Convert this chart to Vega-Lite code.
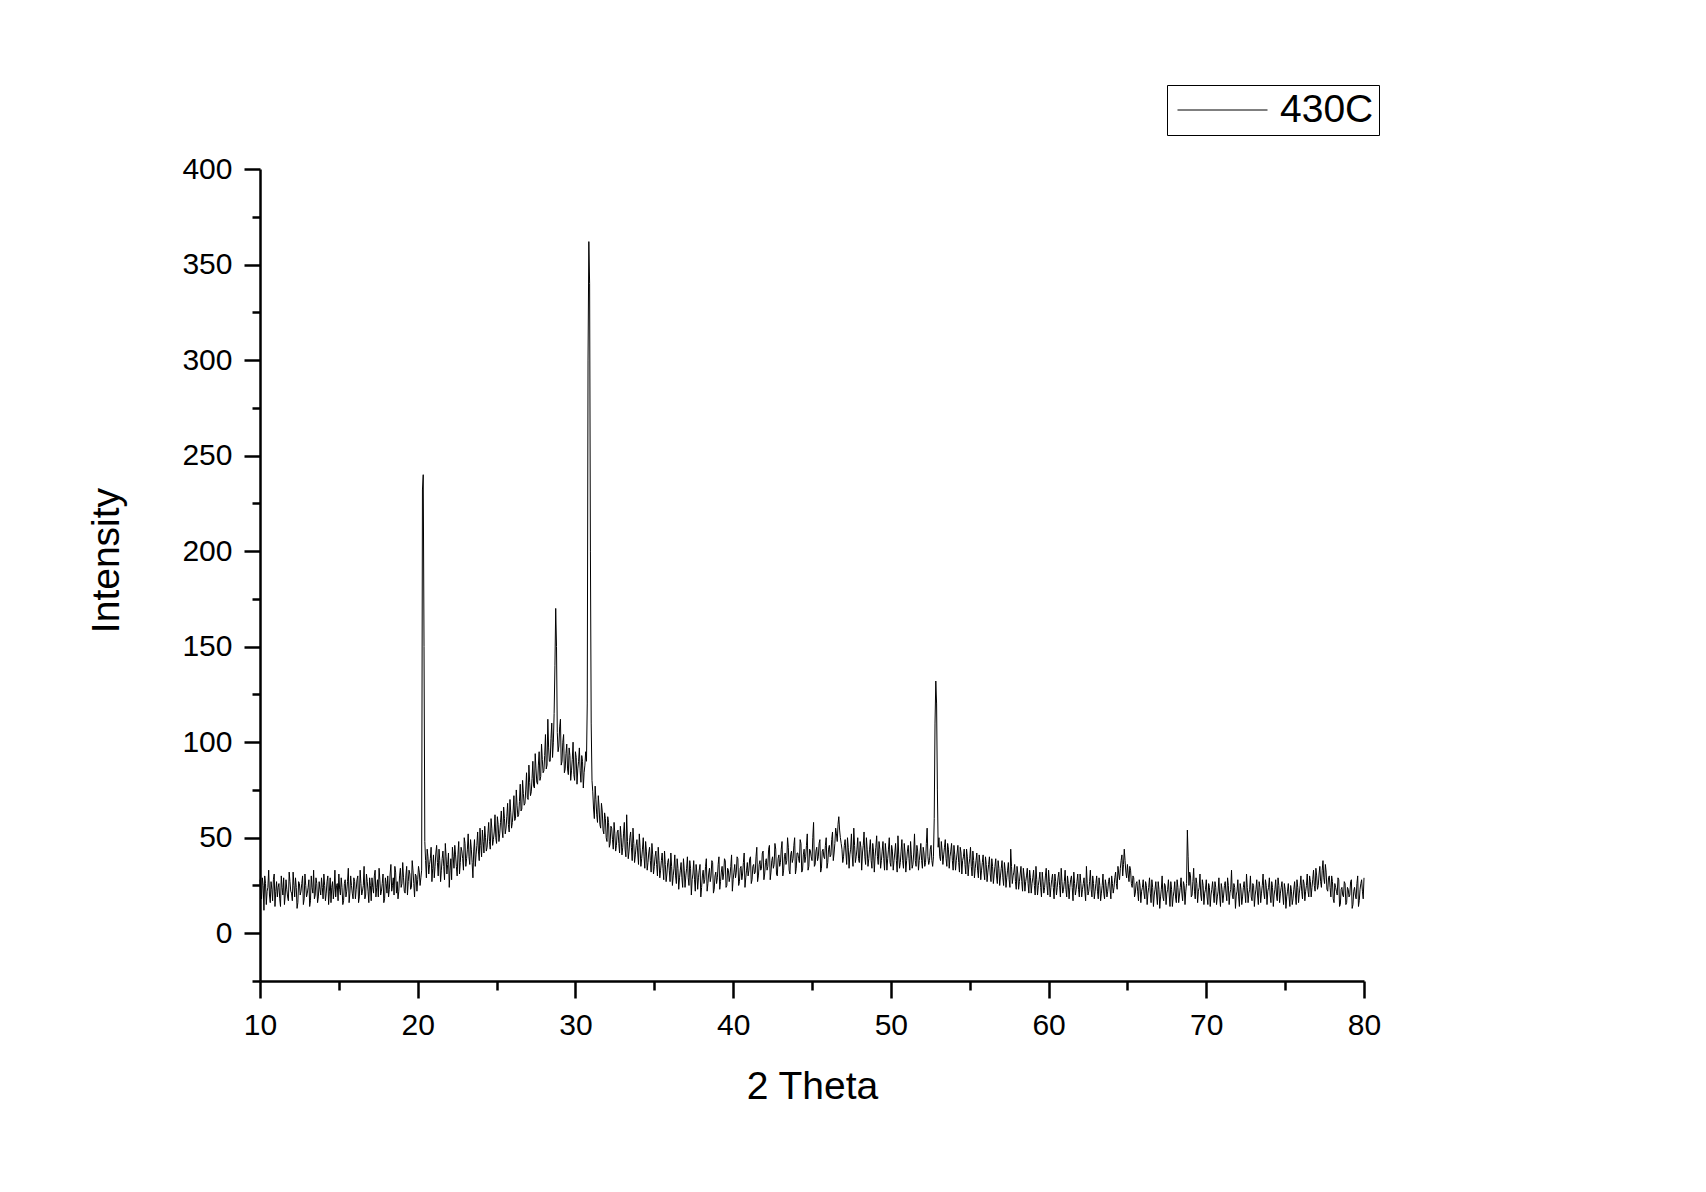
{
"$schema": "https://vega.github.io/schema/vega-lite/v6.json",
"width": 1104,
"height": 812,
"autosize": {"type": "none"},
"padding": {"left": 260, "top": 169, "right": 342, "bottom": 211},
"background": "white",
"config": {"view": {"stroke": null}, "font": "Liberation Sans"},
"data": {"values": [
{"x":10.0,"y":28},{"x":10.1,"y":18},{"x":10.2,"y":25},{"x":10.3,"y":30},{"x":10.4,"y":15},{"x":10.5,"y":24},{"x":10.6,"y":20},{"x":10.7,"y":27},{"x":10.8,"y":17},{"x":10.9,"y":31},
{"x":11.0,"y":22},{"x":11.1,"y":19},{"x":11.2,"y":26},{"x":11.3,"y":14},{"x":11.4,"y":24},{"x":11.5,"y":29},{"x":11.6,"y":20},{"x":11.7,"y":23},{"x":11.8,"y":17},{"x":11.9,"y":27},
{"x":12.0,"y":21},{"x":12.1,"y":32},{"x":12.2,"y":19},{"x":12.3,"y":24},{"x":12.4,"y":16},{"x":12.5,"y":26},{"x":12.6,"y":22},{"x":12.7,"y":30},{"x":12.8,"y":18},{"x":12.9,"y":25},
{"x":13.0,"y":21},{"x":13.1,"y":28},{"x":13.2,"y":17},{"x":13.3,"y":24},{"x":13.4,"y":33},{"x":13.5,"y":20},{"x":13.6,"y":26},{"x":13.7,"y":19},{"x":13.8,"y":23},{"x":13.9,"y":29},
{"x":14.0,"y":18},{"x":14.1,"y":25},{"x":14.2,"y":21},{"x":14.3,"y":30},{"x":14.4,"y":22},{"x":14.5,"y":16},{"x":14.6,"y":27},{"x":14.7,"y":23},{"x":14.8,"y":19},{"x":14.9,"y":26},
{"x":15.0,"y":31},{"x":15.1,"y":20},{"x":15.2,"y":24},{"x":15.3,"y":17},{"x":15.4,"y":28},{"x":15.5,"y":22},{"x":15.6,"y":34},{"x":15.7,"y":21},{"x":15.8,"y":25},{"x":15.9,"y":18},
{"x":16.0,"y":27},{"x":16.1,"y":23},{"x":16.2,"y":30},{"x":16.3,"y":19},{"x":16.4,"y":26},{"x":16.5,"y":22},{"x":16.6,"y":35},{"x":16.7,"y":20},{"x":16.8,"y":27},{"x":16.9,"y":16},
{"x":17.0,"y":25},{"x":17.1,"y":29},{"x":17.2,"y":21},{"x":17.3,"y":33},{"x":17.4,"y":24},{"x":17.5,"y":19},{"x":17.6,"y":28},{"x":17.7,"y":22},{"x":17.8,"y":31},{"x":17.9,"y":18},
{"x":18.0,"y":26},{"x":18.1,"y":30},{"x":18.2,"y":23},{"x":18.3,"y":36},{"x":18.4,"y":25},{"x":18.5,"y":20},{"x":18.6,"y":32},{"x":18.7,"y":27},{"x":18.8,"y":22},{"x":18.9,"y":34},
{"x":19.0,"y":26},{"x":19.1,"y":29},{"x":19.2,"y":21},{"x":19.3,"y":35},{"x":19.4,"y":27},{"x":19.5,"y":31},{"x":19.6,"y":24},{"x":19.7,"y":33},{"x":19.8,"y":19},{"x":19.9,"y":30},
{"x":20.0,"y":28},{"x":20.1,"y":32},{"x":20.2,"y":29},{"x":20.25,"y":33},{"x":20.3,"y":232},{"x":20.35,"y":240},{"x":20.4,"y":150},{"x":20.45,"y":48},{"x":20.5,"y":38},
{"x":20.6,"y":44},{"x":20.7,"y":31},{"x":20.8,"y":39},{"x":20.9,"y":27},{"x":21.0,"y":41},{"x":21.1,"y":35},{"x":21.2,"y":46},{"x":21.3,"y":30},{"x":21.4,"y":38},{"x":21.5,"y":33},
{"x":21.6,"y":43},{"x":21.7,"y":28},{"x":21.8,"y":40},{"x":21.9,"y":36},{"x":22.0,"y":24},{"x":22.1,"y":39},{"x":22.2,"y":45},{"x":22.3,"y":34},{"x":22.4,"y":41},{"x":22.5,"y":30},
{"x":22.6,"y":48},{"x":22.7,"y":37},{"x":22.8,"y":43},{"x":22.9,"y":33},{"x":23.0,"y":47},{"x":23.1,"y":39},{"x":23.2,"y":52},{"x":23.3,"y":36},{"x":23.4,"y":44},{"x":23.5,"y":29},
{"x":23.6,"y":49},{"x":23.7,"y":41},{"x":23.8,"y":53},{"x":23.9,"y":38},{"x":24.0,"y":46},{"x":24.1,"y":54},{"x":24.2,"y":42},{"x":24.3,"y":50},{"x":24.4,"y":45},{"x":24.5,"y":58},
{"x":24.6,"y":44},{"x":24.7,"y":55},{"x":24.8,"y":49},{"x":24.9,"y":62},{"x":25.0,"y":47},{"x":25.1,"y":57},{"x":25.2,"y":52},{"x":25.3,"y":64},{"x":25.4,"y":50},{"x":25.5,"y":60},
{"x":25.6,"y":55},{"x":25.7,"y":68},{"x":25.8,"y":53},{"x":25.9,"y":63},{"x":26.0,"y":58},{"x":26.1,"y":72},{"x":26.2,"y":60},{"x":26.3,"y":67},{"x":26.4,"y":62},{"x":26.5,"y":78},
{"x":26.6,"y":65},{"x":26.7,"y":73},{"x":26.8,"y":68},{"x":26.9,"y":84},{"x":27.0,"y":70},{"x":27.1,"y":79},{"x":27.2,"y":74},{"x":27.3,"y":90},{"x":27.4,"y":76},{"x":27.5,"y":86},
{"x":27.6,"y":78},{"x":27.7,"y":95},{"x":27.8,"y":82},{"x":27.9,"y":91},{"x":28.0,"y":85},{"x":28.1,"y":104},{"x":28.2,"y":88},{"x":28.3,"y":97},{"x":28.4,"y":90},{"x":28.5,"y":110},
{"x":28.6,"y":100},{"x":28.7,"y":140},{"x":28.75,"y":170},{"x":28.8,"y":150},{"x":28.85,"y":105},{"x":28.9,"y":95},
{"x":29.0,"y":108},{"x":29.1,"y":88},{"x":29.2,"y":100},{"x":29.3,"y":84},{"x":29.4,"y":94},{"x":29.5,"y":86},{"x":29.6,"y":97},{"x":29.7,"y":80},{"x":29.8,"y":91},{"x":29.9,"y":83},
{"x":30.0,"y":95},{"x":30.1,"y":78},{"x":30.2,"y":90},{"x":30.3,"y":85},{"x":30.4,"y":93},{"x":30.5,"y":76},{"x":30.6,"y":88},{"x":30.7,"y":90},{"x":30.75,"y":120},{"x":30.8,"y":300},
{"x":30.85,"y":362},{"x":30.9,"y":340},{"x":30.95,"y":200},{"x":31.0,"y":110},{"x":31.05,"y":80},
{"x":31.1,"y":74},{"x":31.2,"y":60},{"x":31.3,"y":70},{"x":31.4,"y":58},{"x":31.5,"y":66},{"x":31.6,"y":55},{"x":31.7,"y":64},{"x":31.8,"y":52},{"x":31.9,"y":60},
{"x":32.0,"y":48},{"x":32.1,"y":58},{"x":32.2,"y":47},{"x":32.3,"y":55},{"x":32.4,"y":44},{"x":32.5,"y":52},{"x":32.6,"y":46},{"x":32.7,"y":54},{"x":32.8,"y":42},{"x":32.9,"y":50},
{"x":33.0,"y":45},{"x":33.1,"y":58},{"x":33.2,"y":40},{"x":33.3,"y":48},{"x":33.4,"y":43},{"x":33.5,"y":53},{"x":33.6,"y":38},{"x":33.7,"y":47},{"x":33.8,"y":41},{"x":33.9,"y":49},
{"x":34.0,"y":36},{"x":34.1,"y":45},{"x":34.2,"y":39},{"x":34.3,"y":50},{"x":34.4,"y":34},{"x":34.5,"y":43},{"x":34.6,"y":37},{"x":34.7,"y":45},{"x":34.8,"y":32},{"x":34.9,"y":41},
{"x":35.0,"y":35},{"x":35.1,"y":43},{"x":35.2,"y":30},{"x":35.3,"y":38},{"x":35.4,"y":33},{"x":35.5,"y":42},{"x":35.6,"y":28},{"x":35.7,"y":36},{"x":35.8,"y":31},{"x":35.9,"y":39},
{"x":36.0,"y":27},{"x":36.1,"y":35},{"x":36.2,"y":30},{"x":36.3,"y":41},{"x":36.4,"y":26},{"x":36.5,"y":34},{"x":36.6,"y":29},{"x":36.7,"y":37},{"x":36.8,"y":24},{"x":36.9,"y":33},
{"x":37.0,"y":30},{"x":37.1,"y":40},{"x":37.2,"y":25},{"x":37.3,"y":34},{"x":37.4,"y":28},{"x":37.5,"y":38},{"x":37.6,"y":22},{"x":37.7,"y":32},{"x":37.8,"y":29},{"x":37.9,"y":36},
{"x":38.0,"y":24},{"x":38.1,"y":33},{"x":38.2,"y":28},{"x":38.3,"y":39},{"x":38.4,"y":26},{"x":38.5,"y":34},{"x":38.6,"y":30},{"x":38.7,"y":37},{"x":38.8,"y":23},{"x":38.9,"y":32},
{"x":39.0,"y":29},{"x":39.1,"y":40},{"x":39.2,"y":27},{"x":39.3,"y":35},{"x":39.4,"y":31},{"x":39.5,"y":38},{"x":39.6,"y":25},{"x":39.7,"y":33},{"x":39.8,"y":30},{"x":39.9,"y":41},
{"x":40.0,"y":28},{"x":40.1,"y":36},{"x":40.2,"y":32},{"x":40.3,"y":39},{"x":40.4,"y":27},{"x":40.5,"y":35},{"x":40.6,"y":31},{"x":40.7,"y":42},{"x":40.8,"y":29},{"x":40.9,"y":37},
{"x":41.0,"y":33},{"x":41.1,"y":40},{"x":41.2,"y":28},{"x":41.3,"y":36},{"x":41.4,"y":32},{"x":41.5,"y":45},{"x":41.6,"y":30},{"x":41.7,"y":38},{"x":41.8,"y":34},{"x":41.9,"y":43},
{"x":42.0,"y":31},{"x":42.1,"y":39},{"x":42.2,"y":35},{"x":42.3,"y":46},{"x":42.4,"y":32},{"x":42.5,"y":40},{"x":42.6,"y":36},{"x":42.7,"y":44},{"x":42.8,"y":30},{"x":42.9,"y":41},
{"x":43.0,"y":37},{"x":43.1,"y":48},{"x":43.2,"y":33},{"x":43.3,"y":42},{"x":43.4,"y":38},{"x":43.5,"y":45},{"x":43.6,"y":31},{"x":43.7,"y":43},{"x":43.8,"y":39},{"x":43.9,"y":50},
{"x":44.0,"y":34},{"x":44.1,"y":42},{"x":44.2,"y":37},{"x":44.3,"y":47},{"x":44.4,"y":33},{"x":44.5,"y":44},{"x":44.6,"y":40},{"x":44.7,"y":52},{"x":44.8,"y":35},{"x":44.9,"y":43},
{"x":45.0,"y":38},{"x":45.1,"y":58},{"x":45.2,"y":36},{"x":45.3,"y":45},{"x":45.4,"y":40},{"x":45.5,"y":49},{"x":45.6,"y":34},{"x":45.7,"y":44},{"x":45.8,"y":39},{"x":45.9,"y":50},
{"x":46.0,"y":37},{"x":46.1,"y":46},{"x":46.2,"y":41},{"x":46.3,"y":53},{"x":46.4,"y":42},{"x":46.5,"y":55},{"x":46.6,"y":48},{"x":46.7,"y":61},{"x":46.8,"y":50},{"x":46.9,"y":44},
{"x":47.0,"y":40},{"x":47.1,"y":49},{"x":47.2,"y":36},{"x":47.3,"y":45},{"x":47.4,"y":41},{"x":47.5,"y":52},{"x":47.6,"y":35},{"x":47.7,"y":46},{"x":47.8,"y":40},{"x":47.9,"y":50},
{"x":48.0,"y":37},{"x":48.1,"y":45},{"x":48.2,"y":42},{"x":48.3,"y":53},{"x":48.4,"y":36},{"x":48.5,"y":44},{"x":48.6,"y":39},{"x":48.7,"y":49},{"x":48.8,"y":34},{"x":48.9,"y":43},
{"x":49.0,"y":40},{"x":49.1,"y":51},{"x":49.2,"y":36},{"x":49.3,"y":44},{"x":49.4,"y":38},{"x":49.5,"y":48},{"x":49.6,"y":33},{"x":49.7,"y":42},{"x":49.8,"y":39},{"x":49.9,"y":50},
{"x":50.0,"y":35},{"x":50.1,"y":43},{"x":50.2,"y":38},{"x":50.3,"y":47},{"x":50.4,"y":32},{"x":50.5,"y":41},{"x":50.6,"y":37},{"x":50.7,"y":49},{"x":50.8,"y":34},{"x":50.9,"y":42},
{"x":51.0,"y":38},{"x":51.1,"y":46},{"x":51.2,"y":33},{"x":51.3,"y":41},{"x":51.4,"y":36},{"x":51.5,"y":52},{"x":51.6,"y":35},{"x":51.7,"y":43},{"x":51.8,"y":38},{"x":51.9,"y":47},
{"x":52.0,"y":34},{"x":52.1,"y":42},{"x":52.2,"y":37},{"x":52.3,"y":55},{"x":52.4,"y":36},{"x":52.5,"y":44},{"x":52.6,"y":38},{"x":52.7,"y":40},{"x":52.75,"y":60},{"x":52.8,"y":110},
{"x":52.85,"y":132},{"x":52.9,"y":120},{"x":52.95,"y":75},{"x":53.0,"y":45},
{"x":53.1,"y":40},{"x":53.2,"y":48},{"x":53.3,"y":36},{"x":53.4,"y":45},{"x":53.5,"y":39},{"x":53.6,"y":47},{"x":53.7,"y":34},{"x":53.8,"y":43},{"x":53.9,"y":38},
{"x":54.0,"y":46},{"x":54.1,"y":33},{"x":54.2,"y":42},{"x":54.3,"y":37},{"x":54.4,"y":45},{"x":54.5,"y":31},{"x":54.6,"y":40},{"x":54.7,"y":36},{"x":54.8,"y":44},{"x":54.9,"y":30},
{"x":55.0,"y":39},{"x":55.1,"y":35},{"x":55.2,"y":43},{"x":55.3,"y":29},{"x":55.4,"y":38},{"x":55.5,"y":33},{"x":55.6,"y":41},{"x":55.7,"y":28},{"x":55.8,"y":37},{"x":55.9,"y":32},
{"x":56.0,"y":40},{"x":56.1,"y":27},{"x":56.2,"y":36},{"x":56.3,"y":31},{"x":56.4,"y":39},{"x":56.5,"y":26},{"x":56.6,"y":35},{"x":56.7,"y":30},{"x":56.8,"y":38},{"x":56.9,"y":25},
{"x":57.0,"y":34},{"x":57.1,"y":29},{"x":57.2,"y":37},{"x":57.3,"y":24},{"x":57.4,"y":33},{"x":57.5,"y":28},{"x":57.6,"y":44},{"x":57.7,"y":26},{"x":57.8,"y":32},{"x":57.9,"y":27},
{"x":58.0,"y":35},{"x":58.1,"y":23},{"x":58.2,"y":31},{"x":58.3,"y":27},{"x":58.4,"y":34},{"x":58.5,"y":22},{"x":58.6,"y":30},{"x":58.7,"y":26},{"x":58.8,"y":33},{"x":58.9,"y":21},
{"x":59.0,"y":29},{"x":59.1,"y":25},{"x":59.2,"y":35},{"x":59.3,"y":20},{"x":59.4,"y":28},{"x":59.5,"y":24},{"x":59.6,"y":32},{"x":59.7,"y":21},{"x":59.8,"y":30},{"x":59.9,"y":25},
{"x":60.0,"y":33},{"x":60.1,"y":19},{"x":60.2,"y":28},{"x":60.3,"y":24},{"x":60.4,"y":31},{"x":60.5,"y":20},{"x":60.6,"y":29},{"x":60.7,"y":25},{"x":60.8,"y":34},{"x":60.9,"y":21},
{"x":61.0,"y":27},{"x":61.1,"y":23},{"x":61.2,"y":30},{"x":61.3,"y":18},{"x":61.4,"y":28},{"x":61.5,"y":24},{"x":61.6,"y":32},{"x":61.7,"y":20},{"x":61.8,"y":27},{"x":61.9,"y":23},
{"x":62.0,"y":31},{"x":62.1,"y":19},{"x":62.2,"y":26},{"x":62.3,"y":22},{"x":62.4,"y":35},{"x":62.5,"y":20},{"x":62.6,"y":27},{"x":62.7,"y":23},{"x":62.8,"y":30},{"x":62.9,"y":18},
{"x":63.0,"y":26},{"x":63.1,"y":22},{"x":63.2,"y":29},{"x":63.3,"y":17},{"x":63.4,"y":25},{"x":63.5,"y":21},{"x":63.6,"y":28},{"x":63.7,"y":19},{"x":63.8,"y":27},{"x":63.9,"y":23},
{"x":64.0,"y":30},{"x":64.1,"y":21},{"x":64.2,"y":29},{"x":64.3,"y":26},{"x":64.4,"y":35},{"x":64.5,"y":28},{"x":64.6,"y":38},{"x":64.7,"y":30},{"x":64.8,"y":44},{"x":64.9,"y":32},
{"x":65.0,"y":36},{"x":65.1,"y":27},{"x":65.2,"y":33},{"x":65.3,"y":24},{"x":65.4,"y":29},{"x":65.5,"y":21},{"x":65.6,"y":27},{"x":65.7,"y":17},{"x":65.8,"y":25},{"x":65.9,"y":22},
{"x":66.0,"y":28},{"x":66.1,"y":18},{"x":66.2,"y":25},{"x":66.3,"y":21},{"x":66.4,"y":29},{"x":66.5,"y":16},{"x":66.6,"y":24},{"x":66.7,"y":20},{"x":66.8,"y":27},{"x":66.9,"y":15},
{"x":67.0,"y":23},{"x":67.1,"y":19},{"x":67.2,"y":30},{"x":67.3,"y":17},{"x":67.4,"y":25},{"x":67.5,"y":21},{"x":67.6,"y":28},{"x":67.7,"y":14},{"x":67.8,"y":23},{"x":67.9,"y":19},
{"x":68.0,"y":27},{"x":68.1,"y":16},{"x":68.2,"y":24},{"x":68.3,"y":20},{"x":68.4,"y":29},{"x":68.5,"y":17},{"x":68.6,"y":25},{"x":68.7,"y":22},{"x":68.75,"y":26},{"x":68.8,"y":54},
{"x":68.85,"y":40},{"x":68.9,"y":25},
{"x":69.0,"y":30},{"x":69.1,"y":20},{"x":69.2,"y":34},{"x":69.3,"y":18},{"x":69.4,"y":26},{"x":69.5,"y":22},{"x":69.6,"y":31},{"x":69.7,"y":17},{"x":69.8,"y":25},{"x":69.9,"y":21},
{"x":70.0,"y":28},{"x":70.1,"y":15},{"x":70.2,"y":24},{"x":70.3,"y":20},{"x":70.4,"y":27},{"x":70.5,"y":16},{"x":70.6,"y":24},{"x":70.7,"y":19},{"x":70.8,"y":29},{"x":70.9,"y":14},
{"x":71.0,"y":23},{"x":71.1,"y":20},{"x":71.2,"y":27},{"x":71.3,"y":17},{"x":71.4,"y":25},{"x":71.5,"y":21},{"x":71.6,"y":33},{"x":71.7,"y":18},{"x":71.8,"y":24},{"x":71.9,"y":20},
{"x":72.0,"y":28},{"x":72.1,"y":14},{"x":72.2,"y":23},{"x":72.3,"y":19},{"x":72.4,"y":27},{"x":72.5,"y":16},{"x":72.6,"y":24},{"x":72.7,"y":21},{"x":72.8,"y":30},{"x":72.9,"y":17},
{"x":73.0,"y":25},{"x":73.1,"y":20},{"x":73.2,"y":28},{"x":73.3,"y":15},{"x":73.4,"y":24},{"x":73.5,"y":21},{"x":73.6,"y":31},{"x":73.7,"y":18},{"x":73.8,"y":25},{"x":73.9,"y":22},
{"x":74.0,"y":29},{"x":74.1,"y":16},{"x":74.2,"y":24},{"x":74.3,"y":20},{"x":74.4,"y":28},{"x":74.5,"y":17},{"x":74.6,"y":25},{"x":74.7,"y":21},{"x":74.8,"y":27},{"x":74.9,"y":15},
{"x":75.0,"y":23},{"x":75.1,"y":19},{"x":75.2,"y":26},{"x":75.3,"y":14},{"x":75.4,"y":22},{"x":75.5,"y":18},{"x":75.6,"y":27},{"x":75.7,"y":15},{"x":75.8,"y":24},{"x":75.9,"y":21},
{"x":76.0,"y":30},{"x":76.1,"y":18},{"x":76.2,"y":26},{"x":76.3,"y":22},{"x":76.4,"y":31},{"x":76.5,"y":19},{"x":76.6,"y":27},{"x":76.7,"y":24},{"x":76.8,"y":33},{"x":76.9,"y":22},
{"x":77.0,"y":30},{"x":77.1,"y":25},{"x":77.2,"y":35},{"x":77.3,"y":24},{"x":77.4,"y":38},{"x":77.5,"y":26},{"x":77.6,"y":32},{"x":77.7,"y":22},{"x":77.8,"y":30},{"x":77.9,"y":19},
{"x":78.0,"y":27},{"x":78.1,"y":16},{"x":78.2,"y":24},{"x":78.3,"y":20},{"x":78.4,"y":28},{"x":78.5,"y":15},{"x":78.6,"y":24},{"x":78.7,"y":19},{"x":78.8,"y":26},{"x":78.9,"y":16},
{"x":79.0,"y":23},{"x":79.1,"y":20},{"x":79.2,"y":28},{"x":79.3,"y":15},{"x":79.4,"y":24},{"x":79.5,"y":18},{"x":79.6,"y":30},{"x":79.7,"y":17},{"x":79.8,"y":26},{"x":79.9,"y":22},
{"x":80.0,"y":29},
{"x":10.05,"y":21},{"x":10.15,"y":29},{"x":10.25,"y":12},{"x":10.35,"y":26},{"x":10.45,"y":22},{"x":10.55,"y":33},{"x":10.65,"y":16},{"x":10.75,"y":23},{"x":10.85,"y":28},{"x":10.95,"y":14},
{"x":11.05,"y":27},{"x":11.15,"y":24},{"x":11.25,"y":18},{"x":11.35,"y":30},{"x":11.45,"y":20},{"x":11.55,"y":15},{"x":11.65,"y":28},{"x":11.75,"y":19},{"x":11.85,"y":32},{"x":11.95,"y":22},
{"x":12.05,"y":17},{"x":12.15,"y":25},{"x":12.25,"y":29},{"x":12.35,"y":13},{"x":12.45,"y":27},{"x":12.55,"y":20},{"x":12.65,"y":26},{"x":12.75,"y":15},{"x":12.85,"y":31},{"x":12.95,"y":19},
{"x":13.05,"y":24},{"x":13.15,"y":14},{"x":13.25,"y":30},{"x":13.35,"y":21},{"x":13.45,"y":18},{"x":13.55,"y":29},{"x":13.65,"y":16},{"x":13.75,"y":27},{"x":13.85,"y":20},{"x":13.95,"y":24},
{"x":14.05,"y":31},{"x":14.15,"y":17},{"x":14.25,"y":27},{"x":14.35,"y":15},{"x":14.45,"y":29},{"x":14.55,"y":24},{"x":14.65,"y":18},{"x":14.75,"y":33},{"x":14.85,"y":25},{"x":14.95,"y":17},
{"x":15.05,"y":23},{"x":15.15,"y":29},{"x":15.25,"y":15},{"x":15.35,"y":26},{"x":15.45,"y":19},{"x":15.55,"y":27},{"x":15.65,"y":16},{"x":15.75,"y":30},{"x":15.85,"y":21},{"x":15.95,"y":29},
{"x":16.05,"y":18},{"x":16.15,"y":28},{"x":16.25,"y":16},{"x":16.35,"y":33},{"x":16.45,"y":20},{"x":16.55,"y":25},{"x":16.65,"y":18},{"x":16.75,"y":31},{"x":16.85,"y":22},{"x":16.95,"y":29},
{"x":17.05,"y":17},{"x":17.15,"y":24},{"x":17.25,"y":30},{"x":17.35,"y":19},{"x":17.45,"y":28},{"x":17.55,"y":34},{"x":17.65,"y":20},{"x":17.75,"y":26},{"x":17.85,"y":16},{"x":17.95,"y":29},
{"x":18.05,"y":21},{"x":18.15,"y":19},{"x":18.25,"y":31},{"x":18.35,"y":22},{"x":18.45,"y":29},{"x":18.55,"y":35},{"x":18.65,"y":21},{"x":18.75,"y":18},{"x":18.85,"y":30},{"x":18.95,"y":24},
{"x":19.05,"y":37},{"x":19.15,"y":22},{"x":19.25,"y":30},{"x":19.35,"y":20},{"x":19.45,"y":33},{"x":19.55,"y":23},{"x":19.65,"y":38},{"x":19.75,"y":26},{"x":19.85,"y":31},{"x":19.95,"y":22},
{"x":20.05,"y":35},{"x":20.15,"y":25},
{"x":20.55,"y":29},{"x":20.65,"y":40},{"x":20.75,"y":36},{"x":20.85,"y":45},{"x":20.95,"y":34},{"x":21.05,"y":29},{"x":21.15,"y":42},{"x":21.25,"y":37},{"x":21.35,"y":44},{"x":21.45,"y":27},
{"x":21.55,"y":39},{"x":21.65,"y":35},{"x":21.75,"y":47},{"x":21.85,"y":31},{"x":21.95,"y":42},{"x":22.05,"y":33},{"x":22.15,"y":28},{"x":22.25,"y":40},{"x":22.35,"y":46},{"x":22.45,"y":35},
{"x":22.55,"y":41},{"x":22.65,"y":31},{"x":22.75,"y":45},{"x":22.85,"y":39},{"x":22.95,"y":50},{"x":23.05,"y":35},{"x":23.15,"y":44},{"x":23.25,"y":40},{"x":23.35,"y":49},{"x":23.45,"y":37},
{"x":23.55,"y":43},{"x":23.65,"y":35},{"x":23.75,"y":46},{"x":23.85,"y":43},{"x":23.95,"y":55},
{"x":24.05,"y":40},{"x":24.15,"y":48},{"x":24.25,"y":56},{"x":24.35,"y":43},{"x":24.45,"y":52},{"x":24.55,"y":48},{"x":24.65,"y":60},{"x":24.75,"y":46},{"x":24.85,"y":53},{"x":24.95,"y":50},
{"x":25.05,"y":61},{"x":25.15,"y":48},{"x":25.25,"y":58},{"x":25.35,"y":54},{"x":25.45,"y":66},{"x":25.55,"y":52},{"x":25.65,"y":61},{"x":25.75,"y":57},{"x":25.85,"y":70},{"x":25.95,"y":55},
{"x":26.05,"y":64},{"x":26.15,"y":59},{"x":26.25,"y":75},{"x":26.35,"y":61},{"x":26.45,"y":69},{"x":26.55,"y":64},{"x":26.65,"y":80},{"x":26.75,"y":67},{"x":26.85,"y":75},{"x":26.95,"y":71},
{"x":27.05,"y":88},{"x":27.15,"y":72},{"x":27.25,"y":81},{"x":27.35,"y":77},{"x":27.45,"y":94},{"x":27.55,"y":79},{"x":27.65,"y":88},{"x":27.75,"y":80},{"x":27.85,"y":99},{"x":27.95,"y":84},
{"x":28.05,"y":93},{"x":28.15,"y":86},{"x":28.25,"y":112},{"x":28.35,"y":90},{"x":28.45,"y":102},{"x":28.55,"y":92},{"x":28.65,"y":115},
{"x":28.95,"y":98},{"x":29.05,"y":112},{"x":29.15,"y":90},{"x":29.25,"y":104},{"x":29.35,"y":86},{"x":29.45,"y":99},{"x":29.55,"y":83},{"x":29.65,"y":93},{"x":29.75,"y":85},{"x":29.85,"y":100},
{"x":29.95,"y":80},{"x":30.05,"y":92},{"x":30.15,"y":86},{"x":30.25,"y":97},{"x":30.35,"y":79},{"x":30.45,"y":90},{"x":30.55,"y":84},{"x":30.65,"y":95},
{"x":31.15,"y":65},{"x":31.25,"y":77},{"x":31.35,"y":62},{"x":31.45,"y":72},{"x":31.55,"y":57},{"x":31.65,"y":68},{"x":31.75,"y":54},{"x":31.85,"y":63},{"x":31.95,"y":50},
{"x":32.05,"y":61},{"x":32.15,"y":45},{"x":32.25,"y":56},{"x":32.35,"y":49},{"x":32.45,"y":58},{"x":32.55,"y":43},{"x":32.65,"y":53},{"x":32.75,"y":47},{"x":32.85,"y":56},{"x":32.95,"y":41},
{"x":33.05,"y":52},{"x":33.15,"y":44},{"x":33.25,"y":62},{"x":33.35,"y":39},{"x":33.45,"y":50},{"x":33.55,"y":45},{"x":33.65,"y":55},{"x":33.75,"y":37},{"x":33.85,"y":46},{"x":33.95,"y":42},
{"x":34.05,"y":52},{"x":34.15,"y":35},{"x":34.25,"y":44},{"x":34.35,"y":40},{"x":34.45,"y":48},{"x":34.55,"y":33},{"x":34.65,"y":42},{"x":34.75,"y":38},{"x":34.85,"y":47},{"x":34.95,"y":31},
{"x":35.05,"y":40},{"x":35.15,"y":36},{"x":35.25,"y":45},{"x":35.35,"y":29},{"x":35.45,"y":38},{"x":35.55,"y":34},{"x":35.65,"y":43},{"x":35.75,"y":27},{"x":35.85,"y":37},{"x":35.95,"y":33},
{"x":36.05,"y":42},{"x":36.15,"y":25},{"x":36.25,"y":34},{"x":36.35,"y":30},{"x":36.45,"y":39},{"x":36.55,"y":23},{"x":36.65,"y":33},{"x":36.75,"y":29},{"x":36.85,"y":39},{"x":36.95,"y":24},
{"x":37.05,"y":34},{"x":37.15,"y":29},{"x":37.25,"y":38},{"x":37.35,"y":20},{"x":37.45,"y":31},{"x":37.55,"y":28},{"x":37.65,"y":36},{"x":37.75,"y":23},{"x":37.85,"y":33},{"x":37.95,"y":19},
{"x":38.05,"y":30},{"x":38.15,"y":26},{"x":38.25,"y":35},{"x":38.35,"y":22},{"x":38.45,"y":31},{"x":38.55,"y":27},{"x":38.65,"y":38},{"x":38.75,"y":21},{"x":38.85,"y":30},{"x":38.95,"y":26},
{"x":39.05,"y":36},{"x":39.15,"y":23},{"x":39.25,"y":32},{"x":39.35,"y":28},{"x":39.45,"y":39},{"x":39.55,"y":24},{"x":39.65,"y":34},{"x":39.75,"y":27},{"x":39.85,"y":35},{"x":39.95,"y":22},
{"x":40.05,"y":32},{"x":40.15,"y":29},{"x":40.25,"y":40},{"x":40.35,"y":25},{"x":40.45,"y":34},{"x":40.55,"y":28},{"x":40.65,"y":37},{"x":40.75,"y":24},{"x":40.85,"y":33},{"x":40.95,"y":30},
{"x":41.05,"y":39},{"x":41.15,"y":26},{"x":41.25,"y":35},{"x":41.35,"y":31},{"x":41.45,"y":40},{"x":41.55,"y":27},{"x":41.65,"y":36},{"x":41.75,"y":33},{"x":41.85,"y":42},{"x":41.95,"y":28},
{"x":42.05,"y":37},{"x":42.15,"y":33},{"x":42.25,"y":44},{"x":42.35,"y":28},{"x":42.45,"y":38},{"x":42.55,"y":34},{"x":42.65,"y":47},{"x":42.75,"y":31},{"x":42.85,"y":39},{"x":42.95,"y":35},
{"x":43.05,"y":44},{"x":43.15,"y":30},{"x":43.25,"y":40},{"x":43.35,"y":36},{"x":43.45,"y":50},{"x":43.55,"y":33},{"x":43.65,"y":41},{"x":43.75,"y":37},{"x":43.85,"y":46},{"x":43.95,"y":31},
{"x":44.05,"y":42},{"x":44.15,"y":39},{"x":44.25,"y":49},{"x":44.35,"y":32},{"x":44.45,"y":41},{"x":44.55,"y":37},{"x":44.65,"y":46},{"x":44.75,"y":33},{"x":44.85,"y":44},{"x":44.95,"y":40},
{"x":45.05,"y":50},{"x":45.15,"y":35},{"x":45.25,"y":43},{"x":45.35,"y":38},{"x":45.45,"y":47},{"x":45.55,"y":32},{"x":45.65,"y":43},{"x":45.75,"y":40},{"x":45.85,"y":46},{"x":45.95,"y":34},
{"x":46.05,"y":44},{"x":46.15,"y":40},{"x":46.25,"y":49},{"x":46.35,"y":38},{"x":46.45,"y":47},{"x":46.55,"y":52},{"x":46.65,"y":57},{"x":46.75,"y":54},{"x":46.85,"y":47},{"x":46.95,"y":37},
{"x":47.05,"y":46},{"x":47.15,"y":42},{"x":47.25,"y":50},{"x":47.35,"y":34},{"x":47.45,"y":44},{"x":47.55,"y":41},{"x":47.65,"y":55},{"x":47.75,"y":37},{"x":47.85,"y":44},{"x":47.95,"y":39},
{"x":48.05,"y":48},{"x":48.15,"y":33},{"x":48.25,"y":46},{"x":48.35,"y":40},{"x":48.45,"y":50},{"x":48.55,"y":35},{"x":48.65,"y":44},{"x":48.75,"y":38},{"x":48.85,"y":47},{"x":48.95,"y":32},
{"x":49.05,"y":45},{"x":49.15,"y":40},{"x":49.25,"y":48},{"x":49.35,"y":34},{"x":49.45,"y":43},{"x":49.55,"y":39},{"x":49.65,"y":47},{"x":49.75,"y":33},{"x":49.85,"y":44},{"x":49.95,"y":37},
{"x":50.05,"y":46},{"x":50.15,"y":33},{"x":50.25,"y":42},{"x":50.35,"y":38},{"x":50.45,"y":51},{"x":50.55,"y":34},{"x":50.65,"y":43},{"x":50.75,"y":38},{"x":50.85,"y":47},{"x":50.95,"y":32},
{"x":51.05,"y":43},{"x":51.15,"y":39},{"x":51.25,"y":48},{"x":51.35,"y":34},{"x":51.45,"y":42},{"x":51.55,"y":38},{"x":51.65,"y":46},{"x":51.75,"y":33},{"x":51.85,"y":42},{"x":51.95,"y":38},
{"x":52.05,"y":45},{"x":52.15,"y":35},{"x":52.25,"y":47},{"x":52.35,"y":40},{"x":52.45,"y":38},{"x":52.55,"y":46},{"x":52.65,"y":35},
{"x":53.05,"y":50},{"x":53.15,"y":38},{"x":53.25,"y":43},{"x":53.35,"y":41},{"x":53.45,"y":49},{"x":53.55,"y":35},{"x":53.65,"y":44},{"x":53.75,"y":40},{"x":53.85,"y":47},{"x":53.95,"y":33},
{"x":54.05,"y":41},{"x":54.15,"y":38},{"x":54.25,"y":46},{"x":54.35,"y":32},{"x":54.45,"y":42},{"x":54.55,"y":38},{"x":54.65,"y":44},{"x":54.75,"y":31},{"x":54.85,"y":40},{"x":54.95,"y":36},
{"x":55.05,"y":45},{"x":55.15,"y":30},{"x":55.25,"y":38},{"x":55.35,"y":34},{"x":55.45,"y":42},{"x":55.55,"y":29},{"x":55.65,"y":37},{"x":55.75,"y":33},{"x":55.85,"y":41},{"x":55.95,"y":28},
{"x":56.05,"y":36},{"x":56.15,"y":32},{"x":56.25,"y":40},{"x":56.35,"y":27},{"x":56.45,"y":35},{"x":56.55,"y":31},{"x":56.65,"y":39},{"x":56.75,"y":26},{"x":56.85,"y":34},{"x":56.95,"y":30},
{"x":57.05,"y":38},{"x":57.15,"y":25},{"x":57.25,"y":33},{"x":57.35,"y":29},{"x":57.45,"y":37},{"x":57.55,"y":24},{"x":57.65,"y":35},{"x":57.75,"y":30},{"x":57.85,"y":36},{"x":57.95,"y":23},
{"x":58.05,"y":31},{"x":58.15,"y":27},{"x":58.25,"y":35},{"x":58.35,"y":22},{"x":58.45,"y":30},{"x":58.55,"y":27},{"x":58.65,"y":34},{"x":58.75,"y":21},{"x":58.85,"y":29},{"x":58.95,"y":26},
{"x":59.05,"y":33},{"x":59.15,"y":20},{"x":59.25,"y":28},{"x":59.35,"y":25},{"x":59.45,"y":32},{"x":59.55,"y":19},{"x":59.65,"y":27},{"x":59.75,"y":24},{"x":59.85,"y":34},{"x":59.95,"y":20},
{"x":60.05,"y":27},{"x":60.15,"y":24},{"x":60.25,"y":31},{"x":60.35,"y":18},{"x":60.45,"y":27},{"x":60.55,"y":24},{"x":60.65,"y":32},{"x":60.75,"y":19},{"x":60.85,"y":27},{"x":60.95,"y":23},
{"x":61.05,"y":33},{"x":61.15,"y":19},{"x":61.25,"y":26},{"x":61.35,"y":24},{"x":61.45,"y":30},{"x":61.55,"y":17},{"x":61.65,"y":26},{"x":61.75,"y":23},{"x":61.85,"y":31},{"x":61.95,"y":19},
{"x":62.05,"y":26},{"x":62.15,"y":23},{"x":62.25,"y":29},{"x":62.35,"y":17},{"x":62.45,"y":26},{"x":62.55,"y":22},{"x":62.65,"y":33},{"x":62.75,"y":19},{"x":62.85,"y":26},{"x":62.95,"y":22},
{"x":63.05,"y":30},{"x":63.15,"y":18},{"x":63.25,"y":25},{"x":63.35,"y":21},{"x":63.45,"y":31},{"x":63.55,"y":18},{"x":63.65,"y":25},{"x":63.75,"y":22},{"x":63.85,"y":29},{"x":63.95,"y":18},
{"x":64.05,"y":26},{"x":64.15,"y":24},{"x":64.25,"y":32},{"x":64.35,"y":23},{"x":64.45,"y":31},{"x":64.55,"y":34},{"x":64.65,"y":41},{"x":64.75,"y":36},{"x":64.85,"y":38},{"x":64.95,"y":29},
{"x":65.05,"y":31},{"x":65.15,"y":35},{"x":65.25,"y":26},{"x":65.35,"y":30},{"x":65.45,"y":19},{"x":65.55,"y":26},{"x":65.65,"y":22},{"x":65.75,"y":28},{"x":65.85,"y":16},{"x":65.95,"y":24},
{"x":66.05,"y":21},{"x":66.15,"y":27},{"x":66.25,"y":15},{"x":66.35,"y":24},{"x":66.45,"y":21},{"x":66.55,"y":28},{"x":66.65,"y":14},{"x":66.75,"y":23},{"x":66.85,"y":20},{"x":66.95,"y":27},
{"x":67.05,"y":13},{"x":67.15,"y":23},{"x":67.25,"y":19},{"x":67.35,"y":26},{"x":67.45,"y":15},{"x":67.55,"y":23},{"x":67.65,"y":20},{"x":67.75,"y":27},{"x":67.85,"y":14},{"x":67.95,"y":22},
{"x":68.05,"y":19},{"x":68.15,"y":28},{"x":68.25,"y":16},{"x":68.35,"y":24},{"x":68.45,"y":21},{"x":68.55,"y":27},{"x":68.65,"y":15},
{"x":68.95,"y":32},{"x":69.05,"y":19},{"x":69.15,"y":27},{"x":69.25,"y":22},{"x":69.35,"y":29},{"x":69.45,"y":16},{"x":69.55,"y":24},{"x":69.65,"y":20},{"x":69.75,"y":28},{"x":69.85,"y":15},{"x":69.95,"y":23},
{"x":70.05,"y":19},{"x":70.15,"y":26},{"x":70.25,"y":14},{"x":70.35,"y":23},{"x":70.45,"y":21},{"x":70.55,"y":27},{"x":70.65,"y":15},{"x":70.75,"y":22},{"x":70.85,"y":19},{"x":70.95,"y":26},
{"x":71.05,"y":16},{"x":71.15,"y":25},{"x":71.25,"y":21},{"x":71.35,"y":29},{"x":71.45,"y":15},{"x":71.55,"y":23},{"x":71.65,"y":20},{"x":71.75,"y":26},{"x":71.85,"y":13},{"x":71.95,"y":22},
{"x":72.05,"y":19},{"x":72.15,"y":26},{"x":72.25,"y":15},{"x":72.35,"y":24},{"x":72.45,"y":21},{"x":72.55,"y":31},{"x":72.65,"y":16},{"x":72.75,"y":23},{"x":72.85,"y":19},{"x":72.95,"y":26},
{"x":73.05,"y":14},{"x":73.15,"y":23},{"x":73.25,"y":20},{"x":73.35,"y":27},{"x":73.45,"y":16},{"x":73.55,"y":25},{"x":73.65,"y":21},{"x":73.75,"y":28},{"x":73.85,"y":15},{"x":73.95,"y":24},
{"x":74.05,"y":20},{"x":74.15,"y":27},{"x":74.25,"y":14},{"x":74.35,"y":23},{"x":74.45,"y":20},{"x":74.55,"y":29},{"x":74.65,"y":16},{"x":74.75,"y":24},{"x":74.85,"y":20},{"x":74.95,"y":26},
{"x":75.05,"y":13},{"x":75.15,"y":22},{"x":75.25,"y":19},{"x":75.35,"y":25},{"x":75.45,"y":15},{"x":75.55,"y":23},{"x":75.65,"y":20},{"x":75.75,"y":28},{"x":75.85,"y":16},{"x":75.95,"y":25},
{"x":76.05,"y":22},{"x":76.15,"y":28},{"x":76.25,"y":17},{"x":76.35,"y":25},{"x":76.45,"y":22},{"x":76.55,"y":30},{"x":76.65,"y":19},{"x":76.75,"y":28},{"x":76.85,"y":25},{"x":76.95,"y":34},
{"x":77.05,"y":23},{"x":77.15,"y":31},{"x":77.25,"y":27},{"x":77.35,"y":33},{"x":77.45,"y":29},{"x":77.55,"y":36},{"x":77.65,"y":23},{"x":77.75,"y":29},{"x":77.85,"y":24},{"x":77.95,"y":30},
{"x":78.05,"y":18},{"x":78.15,"y":26},{"x":78.25,"y":22},{"x":78.35,"y":29},{"x":78.45,"y":14},{"x":78.55,"y":23},{"x":78.65,"y":20},{"x":78.75,"y":27},{"x":78.85,"y":15},{"x":78.95,"y":24},
{"x":79.05,"y":19},{"x":79.15,"y":27},{"x":79.25,"y":13},{"x":79.35,"y":22},{"x":79.45,"y":20},{"x":79.55,"y":26},{"x":79.65,"y":14},{"x":79.75,"y":23},{"x":79.85,"y":28},{"x":79.95,"y":18}
]},
"mark": {"type": "line", "strokeWidth": 1, "interpolate": "linear"},
"encoding": {
"x": {"field": "x", "type": "quantitative",
"scale": {"domain": [10, 80], "nice": false, "zero": false},
"axis": {"title": "2 Theta", "values": [10,15,20,25,30,35,40,45,50,55,60,65,70,75,80],
"labelExpr": "datum.value % 10 === 0 ? datum.label : ''",
"format": "d", "grid": false, "domainColor": "black", "domainWidth": 2.5, "tickColor": "black", "tickWidth": 2.5,
"tickSize": {"condition": {"test": "datum.value % 10 === 0", "value": 17}, "value": 9},
"labelPadding": 12, "labelFontSize": 30, "labelColor": "black", "labelFont": "Liberation Sans", "labelOverlap": false, "labelFlush": false,
"titleFontSize": 39, "titleFontWeight": "normal", "titleColor": "black", "titleFont": "Liberation Sans", "titlePadding": 27}},
"y": {"field": "y", "type": "quantitative",
"scale": {"domain": [-25, 400], "nice": false, "zero": false},
"axis": {"title": "Intensity", "values": [-25,0,25,50,75,100,125,150,175,200,225,250,275,300,325,350,375,400],
"labelExpr": "datum.value % 50 === 0 ? datum.label : ''",
"format": "d", "grid": false, "domainColor": "black", "domainWidth": 2.5, "tickColor": "black", "tickWidth": 2.5,
"tickSize": {"condition": {"test": "datum.value % 50 === 0", "value": 16}, "value": 8},
"labelPadding": 12, "labelFontSize": 30, "labelColor": "black", "labelFont": "Liberation Sans", "labelOverlap": false, "labelFlush": false,
"titleFontSize": 39, "titleFontWeight": "normal", "titleColor": "black", "titleFont": "Liberation Sans", "titlePadding": 55, "titleY": 391}},
"color": {"datum": "430C", "type": "nominal", "scale": {"range": ["black"]},
"legend": {"title": null, "orient": "none", "legendX": 907, "legendY": -84, "strokeColor": "black",
"padding": 5, "symbolType": "M-0.744,0H3.872", "symbolSize": 1521, "symbolStrokeWidth": 1, "labelFontSize": 39, "labelFont": "Liberation Sans", "labelColor": "black", "labelOffset": 68, "fillColor": "white"}}
}
}
